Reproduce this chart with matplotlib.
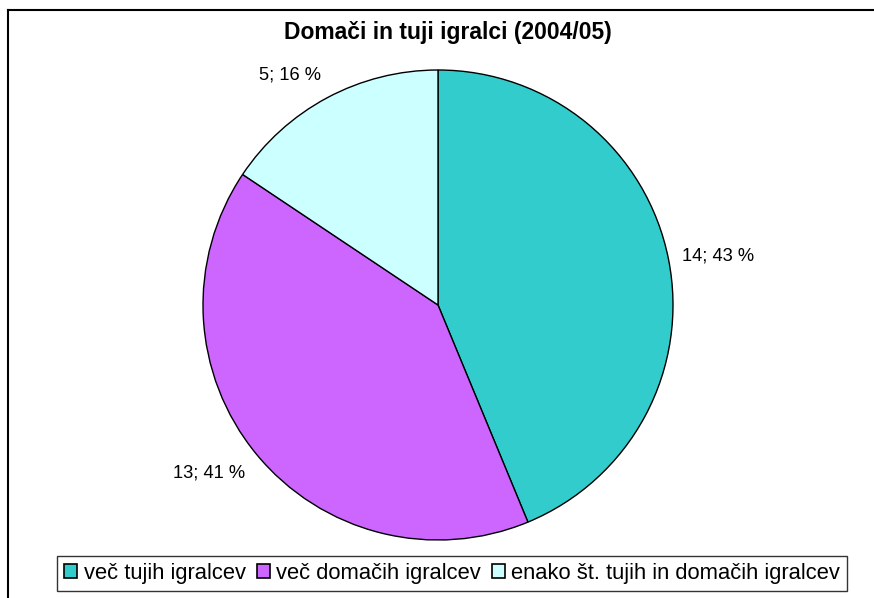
import matplotlib
matplotlib.use('Agg')
import matplotlib.pyplot as plt
import numpy as np
from matplotlib.lines import Line2D
from matplotlib.patches import Patch

plt.rcParams['font.family'] = ['Liberation Sans', 'DejaVu Sans']

# podatki
title = 'Domači in tuji igralci (2004/05)'
categories = ['več tujih igralcev', 'več domačih igralcev', 'enako št. tujih in domačih igralcev']
counts = [14, 13, 5]
percents = [43, 41, 16]
colors = ['#33CCCC', '#CC66FF', '#CCFFFF']

W, H = 874, 598
fig = plt.figure(figsize=(W / 100, H / 100), dpi=100)

# pie axes: centre (438, 305) px, radius 235 px
cx, cy, r = 438, 305, 235
ax = fig.add_axes([(cx - r) / W, (H - cy - r) / H, 2 * r / W, 2 * r / H])
wedges, _ = ax.pie(counts, colors=colors, startangle=90, counterclock=False,
                   radius=1.0, wedgeprops=dict(edgecolor='black', linewidth=1.0))
ax.set_xlim(-1, 1)
ax.set_ylim(-1, 1)
ax.set_aspect('equal')
ax.axis('off')

# oznake podatkov (kot v Excelu: sidro ob robu, besedilo obrnjeno navzven)
for w, n, p in zip(wedges, counts, percents):
    ang = np.deg2rad((w.theta1 + w.theta2) / 2)
    c, s = np.cos(ang), np.sin(ang)
    ha = 'left' if c > 0.1 else ('right' if c < -0.1 else 'center')
    va = 'bottom' if s > 0.5 else ('top' if s < -0.5 else 'center')
    ax.text(1.06 * c, 1.07 * s, f'{n}; {p} %', fontsize=13.2,
            ha=ha, va=va, clip_on=False)

fig.text(448 / W, 1 - 32 / H, title, fontsize=16.5, fontweight='bold',
         ha='center', va='center')

# legenda
handles = [Patch(facecolor=c, edgecolor='black', linewidth=1.2) for c in colors]
leg = fig.legend(handles, categories, loc='center', bbox_to_anchor=(452 / W, 1 - 573.5 / H),
                 ncol=3, frameon=True, fancybox=False, fontsize=15.8,
                 handlelength=0.6, handleheight=0.6, handletextpad=0.28,
                 columnspacing=0.5, borderpad=0.33, borderaxespad=0)
leg.get_frame().set_edgecolor('black')
leg.get_frame().set_linewidth(1.0)

# okvir grafikona (zgoraj in levo)
fig.add_artist(Line2D([8 / W, 1], [1 - 10 / H, 1 - 10 / H], color='black', linewidth=1.5))
fig.add_artist(Line2D([8 / W, 8 / W], [0, 1 - 10 / H], color='black', linewidth=1.5))

fig.savefig('out.png', dpi=100, facecolor='white')
